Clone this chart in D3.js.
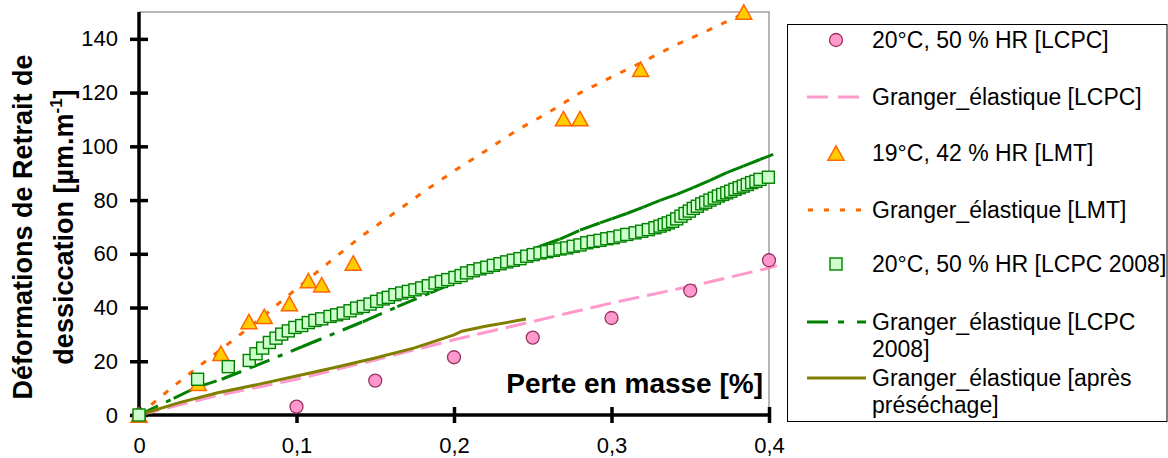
<!DOCTYPE html>
<html>
<head>
<meta charset="utf-8">
<script src="https://cdn.jsdelivr.net/npm/d3@7"></script>
<style>
  html, body { margin: 0; padding: 0; background: #fff; }
  svg { display: block; font-family: "Liberation Sans", Arial, sans-serif; }
</style>
</head>
<body>
<svg id="chart" width="1168" height="458"></svg>
<script>
// ---------------- data ----------------
const xTicks = [0, 0.1, 0.2, 0.3, 0.4];
const xTickLabels = ["0", "0,1", "0,2", "0,3", "0,4"];
const yTicks = [0, 20, 40, 60, 80, 100, 120, 140];

// 20°C, 50 % HR [LCPC] (circles)
const lcpcX = [0, 0.1, 0.15, 0.2, 0.25, 0.3, 0.35, 0.4];
const lcpcY = [0, 3.1, 12.8, 21.5, 28.8, 36.1, 46.3, 57.6];

// Granger_élastique [LCPC] (pink dashed)
const grLcpcX = [0, 0.05, 0.1, 0.15, 0.2, 0.25, 0.3, 0.35, 0.4, 0.405];
const grLcpcY = [0, 7.3, 13.3, 20.5, 28, 34.8, 41.7, 47.9, 54.7, 55.6];

// 19°C, 42 % HR [LMT] (triangles)
const lmtX = [0, 0.0377, 0.052, 0.0698, 0.0795, 0.0955, 0.1075, 0.116, 0.136, 0.2695, 0.28, 0.3185, 0.384];
const lmtY = [0, 11.8, 23, 34.8, 36.7, 41.5, 50, 48.5, 56.6, 110.3, 110.3, 128.7, 150];

// Granger_élastique [LMT] (orange dotted)
const grLmtX = [0, 0.02, 0.04, 0.06, 0.08, 0.1, 0.12, 0.14, 0.16, 0.18, 0.2, 0.22, 0.24, 0.26, 0.28, 0.3, 0.32, 0.34, 0.36, 0.388];
const grLmtY = [0, 9.8, 19, 28, 37.3, 47, 56.5, 66, 74.3, 82.8, 90.8, 98.3, 106, 112.6, 119.9, 125.8, 131.5, 137.5, 142.8, 150.5];

// 20°C, 50 % HR [LCPC 2008] (squares)
const lcpc08X = [0, 0.0372, 0.0567, 0.070, 0.0743, 0.0785, 0.0828, 0.087, 0.0906, 0.0948, 0.099, 0.1033,
  0.1075, 0.1117, 0.116, 0.1213, 0.1255, 0.1297, 0.134, 0.1382, 0.1424, 0.1467, 0.1509, 0.155, 0.1583,
  0.1625, 0.1668, 0.171, 0.1752, 0.1795, 0.1837, 0.188, 0.192, 0.196, 0.2006, 0.2045, 0.208, 0.2122,
  0.2165, 0.2208, 0.225, 0.2292, 0.2335, 0.2377, 0.2419, 0.2462, 0.2503, 0.2546, 0.2589, 0.263, 0.2673,
  0.2716, 0.2757, 0.28, 0.2843, 0.2884, 0.2927, 0.297, 0.3011, 0.3054, 0.3097, 0.315, 0.3192, 0.3234,
  0.3276, 0.3308, 0.3335, 0.336, 0.3388, 0.3414, 0.3441, 0.3467, 0.3494, 0.3519, 0.3545, 0.3573, 0.3598,
  0.3625, 0.3653, 0.3679, 0.3706, 0.3732, 0.3757, 0.3784, 0.3811, 0.3837, 0.3862, 0.389, 0.3917, 0.3943, 0.3996];
const lcpc08Y = [0, 13.3, 18, 20.3, 22.8, 24.9, 27, 28.6, 30.1, 31.3, 32.6, 33.3,
  34.4, 35.2, 35.8, 36.7, 37.3, 37.9, 38.8, 39.8, 40.4, 41.3, 42.3, 43.2, 43.8,
  44.8, 45.4, 46, 46.6, 47.3, 48.1, 49.1, 49.7, 50.4, 51.2, 51.9, 52.9, 53.7,
  54.4, 55, 55.7, 56.3, 57, 57.6, 58.2, 59.1, 59.7, 60.3, 60.8, 61.3, 61.8,
  62.2, 62.8, 63.3, 64.1, 64.6, 65, 65.6, 66, 66.6, 67.2, 67.8, 68.4, 69,
  69.7, 70.3, 70.9, 71.5, 72.1, 73, 74, 75, 75.9, 76.9, 77.7, 78.6, 79.2,
  80, 80.7, 81.5, 82.1, 82.7, 83.3, 84, 84.6, 85.2, 85.8, 86.5, 87, 87.7, 88.5];

// Granger_élastique [LCPC 2008] (green dash-dot)
const grLcpc08X = [0, 0.022, 0.0366, 0.0525, 0.0705, 0.1035, 0.142, 0.164, 0.185, 0.22, 0.2546, 0.2673,
  0.28, 0.2927, 0.3, 0.3097, 0.3202, 0.3308, 0.3414, 0.3519, 0.3625, 0.3732, 0.3837, 0.3943, 0.4027];
const grLcpc08Y = [0, 6.2, 10.3, 13.3, 17.5, 25.4, 34.7, 40.3, 45.5, 54, 62.8, 65.5,
  68.8, 71.5, 73, 75, 77.4, 79.9, 82.1, 84.6, 87.3, 90.2, 92.6, 95.1, 97];

// Granger_élastique [après préséchage] (olive solid)
const grPreX = [0, 0.025, 0.05, 0.075, 0.1, 0.125, 0.15, 0.175, 0.2, 0.205, 0.22, 0.2457];
const grPreY = [0, 4.5, 8.3, 11.3, 14.5, 17.8, 21.2, 25, 29.8, 31.2, 33, 35.7];

const legendLabels = [
  ["20°C, 50 % HR [LCPC]"],
  ["Granger_élastique [LCPC]"],
  ["19°C, 42 % HR [LMT]"],
  ["Granger_élastique [LMT]"],
  ["20°C, 50 % HR [LCPC 2008]"],
  ["Granger_élastique [LCPC", "2008]"],
  ["Granger_élastique [après", "préséchage]"]
];

// ---------------- drawing ----------------
const svg = d3.select("#chart");
const x = d3.scaleLinear().domain([0, 0.4]).range([139, 769]);
const y = d3.scaleLinear().domain([0, 150]).range([415, 12]);
const zip = (xs, ys) => xs.map((v, i) => [v, ys[i]]);
const line = d3.line().x(d => x(d[0])).y(d => y(d[1]));

const C = {
  pinkFill: "#FF99CC", pinkStroke: "#993366", pinkLine: "#FF99CC",
  triFill: "#FFCC00", orange: "#FF6600",
  sqFill: "#CCFFCC", green: "#008000", olive: "#808000"
};

// plot frame (top & right, grey)
svg.append("path")
  .attr("d", `M${x(0)},${y(150)}H${x(0.4)}V${y(0)}`)
  .attr("fill", "none").attr("stroke", "#A0A0A0").attr("stroke-width", 1.5);

// axes
const yAxis = d3.axisLeft(y).tickValues(yTicks).tickSize(0).tickPadding(21).tickFormat(d3.format("d"));
const gy = svg.append("g").attr("transform", `translate(${x(0)},0)`).call(yAxis);
gy.select(".domain").remove();
gy.selectAll("text").attr("font-size", 22).attr("fill", "#000").attr("font-family", "Liberation Sans, Arial, sans-serif");
gy.selectAll(".tick").append("line").attr("x1", -9).attr("x2", 9).attr("stroke", "#000").attr("stroke-width", 3.5);

const xAxis = d3.axisBottom(x).tickValues(xTicks).tickSize(0).tickPadding(22)
  .tickFormat((d, i) => xTickLabels[i]);
const gx = svg.append("g").attr("transform", `translate(0,${y(0)})`).call(xAxis);
gx.select(".domain").remove();
gx.selectAll("text").attr("font-size", 22).attr("fill", "#000").attr("font-family", "Liberation Sans, Arial, sans-serif");
gx.selectAll(".tick").append("line").attr("y1", -8).attr("y2", 8).attr("stroke", "#000").attr("stroke-width", 3.5);

svg.append("line").attr("x1", x(0)).attr("x2", x(0)).attr("y1", y(150)).attr("y2", y(0) + 1.5)
  .attr("stroke", "#000").attr("stroke-width", 3.5);
svg.append("line").attr("x1", x(0) - 1.5).attr("x2", x(0.4)).attr("y1", y(0)).attr("y2", y(0))
  .attr("stroke", "#000").attr("stroke-width", 3.5);

// lines
function drawLine(pts, color, dash, perSegment) {
  const g = svg.append("g").attr("fill", "none").attr("stroke", color).attr("stroke-width", 3);
  if (dash) g.attr("stroke-dasharray", dash);
  if (perSegment) {
    g.selectAll("path").data(d3.pairs(pts)).join("path").attr("d", d => line(d));
  } else {
    g.append("path").attr("d", line(pts));
  }
}
drawLine(zip(grLcpcX, grLcpcY), C.pinkLine, "21,8", false);
drawLine(zip(grLmtX, grLmtY), C.orange, "6,10", false);
drawLine(zip(grLcpc08X, grLcpc08Y), C.green, "21,9,5,9", true);
drawLine(zip(grPreX, grPreY), C.olive, null, false);

// markers
const triPath = "M0,-7.2L8,7.2L-8,7.2Z";
svg.append("g").selectAll("circle").data(zip(lcpcX, lcpcY)).join("circle")
  .attr("cx", d => x(d[0])).attr("cy", d => y(d[1])).attr("r", 6.5)
  .attr("fill", C.pinkFill).attr("stroke", C.pinkStroke).attr("stroke-width", 1.3);
svg.append("g").selectAll("path").data(zip(lmtX, lmtY)).join("path")
  .attr("d", triPath).attr("transform", d => `translate(${x(d[0])},${y(d[1])})`)
  .attr("fill", C.triFill).attr("stroke", C.orange).attr("stroke-width", 1.5);
svg.append("g").selectAll("rect").data(zip(lcpc08X, lcpc08Y)).join("rect")
  .attr("x", d => x(d[0]) - 6).attr("y", d => y(d[1]) - 6).attr("width", 12).attr("height", 12)
  .attr("fill", C.sqFill).attr("stroke", C.green).attr("stroke-width", 1.4);

// axis titles
svg.append("text").attr("font-weight", "bold").attr("font-size", 27).attr("fill", "#000")
  .attr("text-anchor", "middle").attr("transform", "translate(32,227) rotate(-90)")
  .text("Déformations de Retrait de");
const yt2 = svg.append("text").attr("font-weight", "bold").attr("font-size", 27).attr("fill", "#000")
  .attr("text-anchor", "middle").attr("transform", "translate(73,227) rotate(-90)");
yt2.append("tspan").text("dessiccation [µm.m");
yt2.append("tspan").attr("font-size", 17).attr("dy", -11).text("-1");
yt2.append("tspan").attr("dy", 11).text("]");

svg.append("text").attr("x", 763).attr("y", 393).attr("text-anchor", "end")
  .attr("font-weight", "bold").attr("font-size", 28).attr("fill", "#000").text("Perte en masse [%]");

// legend
const lg = svg.append("g");
lg.append("rect").attr("x", 787.5).attr("y", 24.5).attr("width", 379.5).attr("height", 397)
  .attr("fill", "#fff").attr("stroke", "#000").attr("stroke-width", 1);
const rowY = [40, 97, 153, 210, 264, 322, 378];
const sx = 836, lx1 = 807, lx2 = 866;
lg.append("circle").attr("cx", sx).attr("cy", rowY[0]).attr("r", 6.5)
  .attr("fill", C.pinkFill).attr("stroke", C.pinkStroke).attr("stroke-width", 1.3);
lg.append("line").attr("x1", lx1).attr("x2", lx2).attr("y1", rowY[1]).attr("y2", rowY[1])
  .attr("stroke", C.pinkLine).attr("stroke-width", 3).attr("stroke-dasharray", "21,10");
lg.append("path").attr("d", triPath).attr("transform", `translate(${sx},${rowY[2]})`)
  .attr("fill", C.triFill).attr("stroke", C.orange).attr("stroke-width", 1.5);
lg.append("line").attr("x1", lx1 + 1).attr("x2", lx2).attr("y1", rowY[3]).attr("y2", rowY[3])
  .attr("stroke", C.orange).attr("stroke-width", 3).attr("stroke-dasharray", "5,11");
lg.append("rect").attr("x", sx - 6).attr("y", rowY[4] - 6).attr("width", 12).attr("height", 12)
  .attr("fill", C.sqFill).attr("stroke", C.green).attr("stroke-width", 1.4);
lg.append("line").attr("x1", lx1).attr("x2", lx2).attr("y1", rowY[5]).attr("y2", rowY[5])
  .attr("stroke", C.green).attr("stroke-width", 3).attr("stroke-dasharray", "21,10,6,13");
lg.append("line").attr("x1", lx1).attr("x2", lx2).attr("y1", rowY[6]).attr("y2", rowY[6])
  .attr("stroke", C.olive).attr("stroke-width", 3);

legendLabels.forEach((lines, i) => {
  const t = lg.append("text").attr("x", 872).attr("y", rowY[i])
    .attr("font-size", 23).attr("fill", "#000");
  lines.forEach((s, j) => {
    t.append("tspan").attr("x", 872).attr("dy", j === 0 ? "0.36em" : 26.5).text(s);
  });
});
</script>
</body>
</html>
